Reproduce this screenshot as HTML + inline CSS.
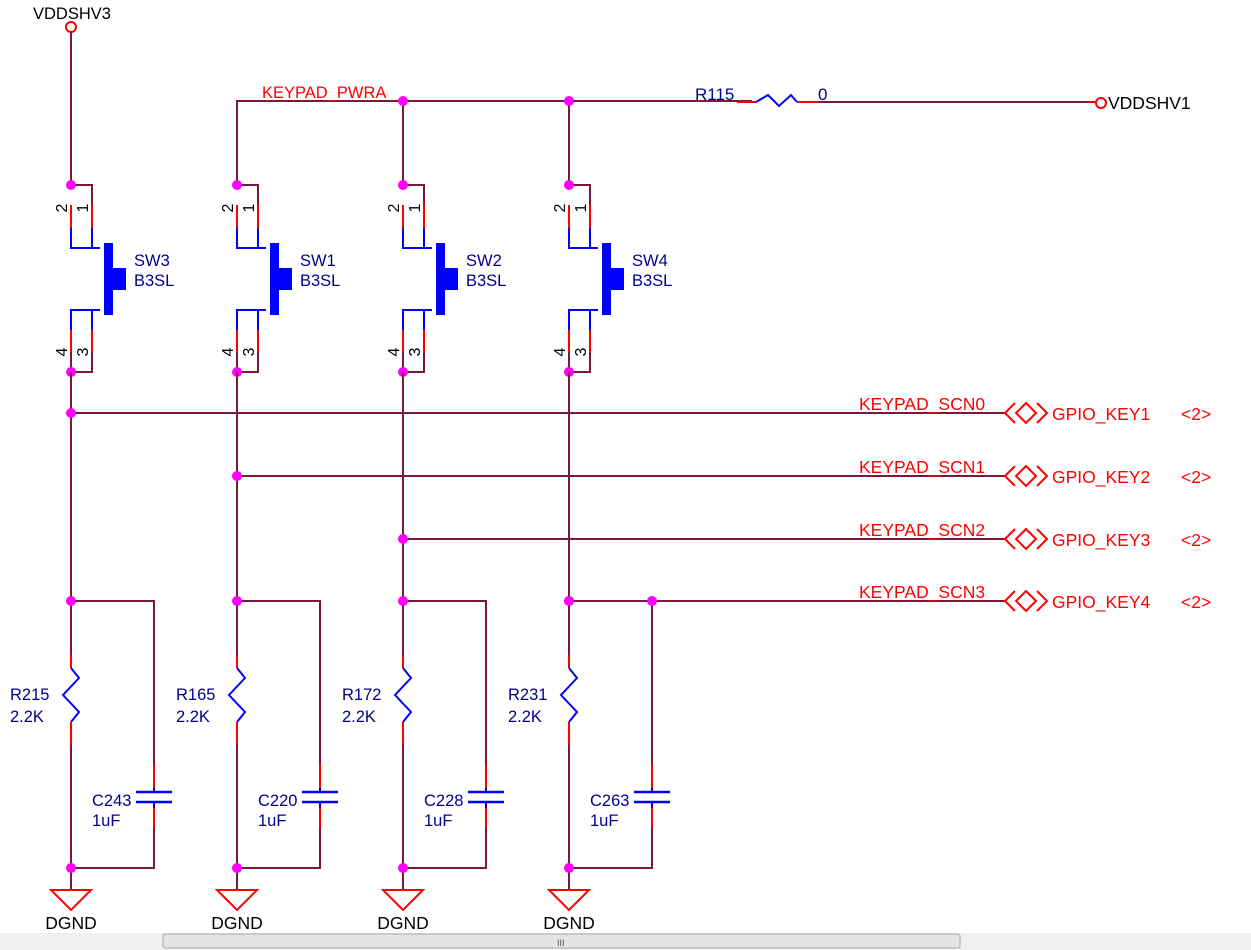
<!DOCTYPE html>
<html><head><style>
html,body{margin:0;padding:0;background:#fff;}
svg{display:block;font-family:"Liberation Sans",sans-serif;}
</style></head><body>
<svg width="1251" height="950" viewBox="0 0 1251 950" xmlns="http://www.w3.org/2000/svg">
<defs>
<g id="sw">
  <polyline points="0,185 21,185 21,205" fill="none" stroke="#7a1a3a" stroke-width="2"/>
  <line x1="0" y1="205" x2="0" y2="228" stroke="#f00" stroke-width="2"/>
  <line x1="21" y1="205" x2="21" y2="228" stroke="#f00" stroke-width="2"/>
  <polyline points="0,228 0,248 29,248" fill="none" stroke="#00f" stroke-width="2"/>
  <line x1="21" y1="228" x2="21" y2="248" stroke="#00f" stroke-width="2"/>
  <rect x="33" y="243" width="9" height="72" fill="#00f"/>
  <rect x="42" y="268" width="13" height="22" fill="#00f"/>
  <polyline points="29,310 0,310 0,330" fill="none" stroke="#00f" stroke-width="2"/>
  <line x1="21" y1="310" x2="21" y2="330" stroke="#00f" stroke-width="2"/>
  <line x1="0" y1="330" x2="0" y2="352" stroke="#f00" stroke-width="2"/>
  <line x1="21" y1="330" x2="21" y2="352" stroke="#f00" stroke-width="2"/>
  <polyline points="0,352 0,372 21,372 21,352" fill="none" stroke="#7a1a3a" stroke-width="2"/>
  <text transform="translate(-4,208) rotate(-90)" font-size="16" text-anchor="middle">2</text>
  <text transform="translate(17,208) rotate(-90)" font-size="16" text-anchor="middle">1</text>
  <text transform="translate(-4,352) rotate(-90)" font-size="16" text-anchor="middle">4</text>
  <text transform="translate(17,352) rotate(-90)" font-size="16" text-anchor="middle">3</text>
  <circle cx="0" cy="185" r="5" fill="#f0f"/>
  <circle cx="0" cy="372" r="5" fill="#f0f"/>
</g>
<g id="rc">
  <line x1="0" y1="372" x2="0" y2="655" stroke="#7a1a3a" stroke-width="2"/>
  <polyline points="0,601 83,601 83,765" fill="none" stroke="#7a1a3a" stroke-width="2"/>
  <line x1="0" y1="655" x2="0" y2="668" stroke="#f00" stroke-width="2"/>
  <polyline points="0,668 8,678 -8,695 8,712 0,722" fill="none" stroke="#00f" stroke-width="2"/>
  <line x1="0" y1="722" x2="0" y2="745" stroke="#f00" stroke-width="2"/>
  <line x1="0" y1="745" x2="0" y2="868" stroke="#7a1a3a" stroke-width="2"/>
  <line x1="83" y1="765" x2="83" y2="788" stroke="#f00" stroke-width="2"/>
  <line x1="65" y1="792" x2="101" y2="792" stroke="#00f" stroke-width="2.5"/>
  <line x1="65" y1="802" x2="101" y2="802" stroke="#00f" stroke-width="2.5"/>
  <line x1="83" y1="788" x2="83" y2="792" stroke="#00f" stroke-width="2"/>
  <line x1="83" y1="802" x2="83" y2="808" stroke="#00f" stroke-width="2"/>
  <line x1="83" y1="808" x2="83" y2="828" stroke="#f00" stroke-width="2"/>
  <polyline points="83,828 83,868 0,868 0,890" fill="none" stroke="#7a1a3a" stroke-width="2"/>
  <polygon points="-20,890 20,890 0,910" fill="none" stroke="#f00" stroke-width="2"/>
  <circle cx="0" cy="601" r="5" fill="#f0f"/>
  <circle cx="0" cy="868" r="5" fill="#f0f"/>
  <text x="0" y="929" font-size="17.5" text-anchor="middle" fill="#000">DGND</text>
</g>
<g id="port">
  <polyline points="1015,403 1005,413 1015,423" fill="none" stroke="#f00" stroke-width="2"/>
  <polygon points="1026,403 1036,413 1026,423 1016,413" fill="none" stroke="#f00" stroke-width="2"/>
  <polyline points="1037,403 1047,413 1037,423" fill="none" stroke="#f00" stroke-width="2"/>
</g>
</defs>

<text x="33" y="19" font-size="16.5">VDDSHV3</text>
<circle cx="71" cy="27" r="5" fill="none" stroke="#f00" stroke-width="2"/>
<line x1="71" y1="32" x2="71" y2="185" stroke="#7a1a3a" stroke-width="2"/>

<polyline points="237,185 237,101 752,101" fill="none" stroke="#7a1a3a" stroke-width="2"/>
<line x1="403" y1="101" x2="403" y2="185" stroke="#7a1a3a" stroke-width="2"/>
<line x1="569" y1="101" x2="569" y2="185" stroke="#7a1a3a" stroke-width="2"/>
<line x1="737" y1="102" x2="757" y2="102" stroke="#f00" stroke-width="2"/>
<polyline points="756,102 768,95 779,106 791,95 797,102" fill="none" stroke="#00f" stroke-width="2"/>
<line x1="797" y1="102" x2="818" y2="102" stroke="#f00" stroke-width="2"/>
<line x1="818" y1="102" x2="1088" y2="102" stroke="#7a1a3a" stroke-width="2"/>
<line x1="1088" y1="102" x2="1096" y2="102" stroke="#f00" stroke-width="2"/>
<circle cx="1101" cy="103" r="5" fill="none" stroke="#f00" stroke-width="2"/>
<text x="1108" y="109" font-size="17.5">VDDSHV1</text>
<text x="695" y="100" font-size="17" fill="#00008b">R115</text>
<text x="818" y="100" font-size="17" fill="#00008b">0</text>
<text x="262" y="98" font-size="16.5" fill="#f00">KEYPAD_PWRA</text>
<circle cx="403" cy="101" r="5" fill="#f0f"/>
<circle cx="569" cy="101" r="5" fill="#f0f"/>

<use href="#sw" x="71"/>
<use href="#sw" x="237"/>
<use href="#sw" x="403"/>
<use href="#sw" x="569"/>
<g font-size="16.5" fill="#00008b">
<text x="134" y="266">SW3</text><text x="134" y="286">B3SL</text>
<text x="300" y="266">SW1</text><text x="300" y="286">B3SL</text>
<text x="466" y="266">SW2</text><text x="466" y="286">B3SL</text>
<text x="632" y="266">SW4</text><text x="632" y="286">B3SL</text>
</g>

<use href="#rc" x="71"/>
<use href="#rc" x="237"/>
<use href="#rc" x="403"/>
<use href="#rc" x="569"/>
<g font-size="16.5" fill="#00008b">
<text x="10" y="700">R215</text><text x="10" y="722">2.2K</text>
<text x="176" y="700">R165</text><text x="176" y="722">2.2K</text>
<text x="342" y="700">R172</text><text x="342" y="722">2.2K</text>
<text x="508" y="700">R231</text><text x="508" y="722">2.2K</text>
<text x="92" y="806">C243</text><text x="92" y="826">1uF</text>
<text x="258" y="806">C220</text><text x="258" y="826">1uF</text>
<text x="424" y="806">C228</text><text x="424" y="826">1uF</text>
<text x="590" y="806">C263</text><text x="590" y="826">1uF</text>
</g>

<line x1="71" y1="413" x2="1005" y2="413" stroke="#7a1a3a" stroke-width="2"/>
<line x1="237" y1="476" x2="1005" y2="476" stroke="#7a1a3a" stroke-width="2"/>
<line x1="403" y1="539" x2="1005" y2="539" stroke="#7a1a3a" stroke-width="2"/>
<line x1="652" y1="601" x2="1005" y2="601" stroke="#7a1a3a" stroke-width="2"/>
<circle cx="71" cy="413" r="5" fill="#f0f"/>
<circle cx="237" cy="476" r="5" fill="#f0f"/>
<circle cx="403" cy="539" r="5" fill="#f0f"/>
<circle cx="569" cy="601" r="5" fill="#f0f"/>
<circle cx="652" cy="601" r="5" fill="#f0f"/>
<use href="#port" y="0"/>
<use href="#port" y="63"/>
<use href="#port" y="126"/>
<use href="#port" y="188"/>
<g font-size="17.5" fill="#f00">
<text x="859" y="410">KEYPAD_SCN0</text>
<text x="859" y="473">KEYPAD_SCN1</text>
<text x="859" y="536">KEYPAD_SCN2</text>
<text x="859" y="598">KEYPAD_SCN3</text>
<text x="1052" y="420">GPIO_KEY1</text><text x="1181" y="420">&lt;2&gt;</text>
<text x="1052" y="483">GPIO_KEY2</text><text x="1181" y="483">&lt;2&gt;</text>
<text x="1052" y="546">GPIO_KEY3</text><text x="1181" y="546">&lt;2&gt;</text>
<text x="1052" y="608">GPIO_KEY4</text><text x="1181" y="608">&lt;2&gt;</text>
</g>

<rect x="0" y="933" width="1251" height="17" fill="#f0f0f0"/>
<rect x="163" y="934" width="797" height="14" rx="2" fill="#e4e4e4" stroke="#a8a8a8"/>
<text x="557" y="946" font-size="9" fill="#555">III</text>
</svg>
</body></html>
